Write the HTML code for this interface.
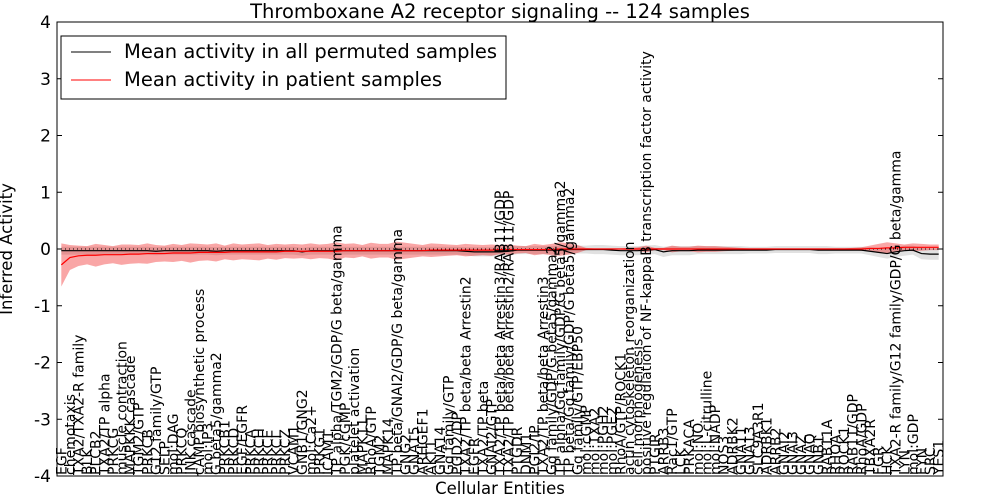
<!DOCTYPE html>
<html><head><meta charset="utf-8"><style>
body{margin:0;background:#fff;font-family:"DejaVu Sans",sans-serif}
svg text{font-family:"DejaVu Sans",sans-serif}
</style></head><body>
<svg id="c" width="1000" height="500" xmlns="http://www.w3.org/2000/svg">
<text x="500" y="18" text-anchor="middle" font-size="19.5">Thromboxane A2 receptor signaling -- 124 samples</text>
<text x="500" y="494" text-anchor="middle" font-size="16.5">Cellular Entities</text>
<text transform="translate(12,249) rotate(-90)" text-anchor="middle" font-size="16.5">Inferred Activity</text>
<g id="bands"></g><g id="lines"></g><g id="yt"></g><g id="xl"></g>
<rect x="57" y="22" width="886" height="454" fill="none" stroke="#000"/>
<g>
<rect x="61" y="36" width="445" height="63" fill="#fff" stroke="#000"/>
<line x1="71" y1="52" x2="111" y2="52" stroke="#000"/>
<text x="124" y="58" font-size="19.5">Mean activity in all permuted samples</text>
<line x1="71" y1="80" x2="111" y2="80" stroke="red"/>
<text x="124" y="86" font-size="19.5">Mean activity in patient samples</text>
</g>
</svg>
<script>
const labels=["EGF","chemotaxis","TXA2/TXA2-R family","BLK","PLCB2","TXA2/TP alpha","PRKCG","muscle contraction","MAPKKK cascade","TGM2/GTP","PRKCB","G12 family/GTP","SELP","mol:DAG","PRKCQ","JNK cascade","cAMP biosynthetic process","mol:IP3","G beta5/gamma2","PRKCB1","PRKCD","EGF/EGFR","PRKCA","PRKCH","PRKCE","PRKCI","PRKCZ","VCAM1","GNB1/GNG2","mol:Ca2+","PRKG1","ICAM1","TP alpha/TGM2/GDP/G beta/gamma","PGK/cGMP","platelet activation","MAPK11","RhoA/GTP","TGM2","MAPK14","TP beta/GNAI2/GDP/G beta/gamma","GNG2","GNA15","ARHGEF1","AKT1","GNA14","Gq family/GTP","PGD2/DP","TXA2/TP beta/beta Arrestin2","EGFR","TXA2/TP beta","GNAI2/GTP","TXA2/TP beta/beta Arrestin3/RAB11/GDP","TXA2/TP beta/beta Arrestin2/RAB11/GDP","PTGDR","DNM1","PGI2/IP","TXA2/TP beta/beta Arrestin3","Gq family/GDP/G beta5/gamma2","TP alpha/Gq family/GDP/G beta5/gamma2","TP beta/Gq family/GDP/G beta5/gamma2","Gq family/GTP/EBP50","mol:cGMP","mol:TXA2","mol:PGH2","mol:PGE2","RhoA/GTP/ROCK1","actin cytoskeleton reorganization","cell morphogenesis","positive regulation of NF-kappaB transcription factor activity","PTGIR","ARRB3","Rac1/GTP","LCK","PRKACA","mol:NO","mol:L-citrulline","mol:NADP","NOS3","ADRBK2","GNA11","GNA13","SLC9A3R1","ADRBK1","ARRB2","GNAI2","GNAI3","GNAZ","GNAQ","GNB1","RAB11A","RHOA","ROCK1","RAB11/GDP","RhoA/GDP","TBXA2R","FGR","HCK","TXA2-R family/G12 family/GDP/G beta/gamma","LYN","mol:GDP","FYN","SRC","YES1"];
const patientMean=[-0.28,-0.15,-0.12,-0.11,-0.11,-0.1,-0.1,-0.1,-0.09,-0.09,-0.08,-0.08,-0.08,-0.07,-0.07,-0.07,-0.06,-0.06,-0.06,-0.06,-0.05,-0.05,-0.05,-0.05,-0.05,-0.05,-0.04,-0.04,-0.04,-0.04,-0.04,-0.04,-0.04,-0.03,-0.03,-0.03,-0.03,-0.03,-0.03,-0.03,-0.03,-0.03,-0.03,-0.02,-0.02,-0.02,-0.02,-0.02,-0.02,-0.02,-0.02,-0.01,-0.01,-0.01,-0.01,-0.01,-0.01,-0.01,0,0,0,0,0,0,0,0,0,0,0,0,0,0,0,0,0,0,0,0,0,0,0,0,0,0,0,0,0,0,0,0,0,0,0,0,0.01,0.01,0.02,0.02,0.03,0.03,0.03,0.03,0.03];
const permutedMean=[-0.03,-0.03,-0.03,-0.03,-0.03,-0.03,-0.03,-0.03,-0.03,-0.03,-0.03,-0.04,-0.03,-0.03,-0.03,-0.03,-0.03,-0.03,-0.04,-0.03,-0.03,-0.03,-0.03,-0.03,-0.03,-0.03,-0.03,-0.03,-0.05,-0.03,-0.03,-0.03,-0.03,-0.03,-0.03,-0.03,-0.03,-0.03,-0.03,-0.03,-0.03,-0.03,-0.03,-0.03,-0.03,-0.03,-0.03,-0.04,-0.05,-0.05,-0.05,-0.05,-0.04,-0.02,-0.02,-0.02,-0.02,-0.02,-0.02,-0.01,-0.01,-0.01,-0.01,-0.01,-0.02,-0.03,-0.03,-0.03,-0.02,-0.01,-0.05,-0.03,-0.03,-0.03,-0.02,-0.02,-0.02,-0.02,-0.02,-0.02,-0.02,-0.02,-0.02,-0.01,-0.01,-0.01,-0.01,-0.01,-0.02,-0.02,-0.02,-0.02,-0.02,-0.02,-0.04,-0.06,-0.08,-0.05,-0.03,-0.02,-0.08,-0.09,-0.09];
const patientSpread=[0.38,0.22,0.18,0.16,0.2,0.17,0.15,0.18,0.17,0.16,0.18,0.15,0.14,0.16,0.14,0.17,0.15,0.14,0.16,0.12,0.15,0.13,0.14,0.15,0.12,0.14,0.12,0.13,0.12,0.14,0.12,0.13,0.16,0.12,0.13,0.1,0.14,0.12,0.12,0.16,0.14,0.12,0.1,0.12,0.11,0.1,0.09,0.11,0.1,0.09,0.1,0.08,0.09,0.07,0.06,0.1,0.08,0.1,0.12,0.1,0.07,0.02,0.01,0.01,0.01,0.01,0.02,0.03,0.06,0.02,0.02,0.06,0.04,0.04,0.06,0.05,0.05,0.04,0.03,0.02,0.01,0.01,0.01,0.01,0.01,0.01,0.01,0.01,0.01,0.01,0.01,0.01,0.02,0.03,0.05,0.08,0.1,0.08,0.05,0.07,0.06,0.05,0.05];
const permutedSpread=[0.07,0.07,0.07,0.07,0.07,0.07,0.07,0.07,0.07,0.07,0.07,0.07,0.07,0.07,0.07,0.07,0.07,0.07,0.07,0.07,0.07,0.07,0.07,0.07,0.07,0.07,0.07,0.07,0.07,0.07,0.07,0.07,0.07,0.07,0.07,0.07,0.07,0.07,0.07,0.07,0.07,0.07,0.07,0.07,0.07,0.07,0.07,0.07,0.08,0.08,0.08,0.08,0.08,0.07,0.07,0.07,0.07,0.07,0.07,0.07,0.07,0.07,0.08,0.08,0.08,0.08,0.08,0.08,0.08,0.08,0.09,0.08,0.08,0.08,0.07,0.07,0.07,0.07,0.07,0.07,0.06,0.06,0.06,0.06,0.06,0.06,0.06,0.06,0.07,0.07,0.06,0.06,0.06,0.06,0.07,0.08,0.09,0.09,0.09,0.08,0.1,0.1,0.1];
const yTicks=[-4,-3,-2,-1,0,1,2,3,4];
const NS="http://www.w3.org/2000/svg";
const X0=57,X1=943,Y0=476,Y1=22;
const n=labels.length;
function xs(i){return X0+(i+0.5)*(X1-X0)/n;}
function ys(v){return Y0-(v+4)/8*(Y0-Y1);}
function mk(t,a,p){const e=document.createElementNS(NS,t);for(const k in a)e.setAttribute(k,a[k]);p.appendChild(e);return e;}
const bands=document.getElementById('bands'),lines=document.getElementById('lines'),yt=document.getElementById('yt'),xl=document.getElementById('xl');
function band(m,s,fill,op,name){let up=[],dn=[];for(let i=0;i<n;i++){up.push(xs(i)+','+ys(m[i]+s[i]));dn.unshift(xs(i)+','+ys(m[i]-s[i]));}
const p=mk('polygon',{points:up.concat(dn).join(' '),fill:fill,'fill-opacity':op},bands);

}
band(permutedMean,permutedSpread,'#aaa',0.35,'permuted-band');
band(patientMean,patientSpread,'#e00',0.35,'patient-band');
const z=mk('line',{x1:X0,x2:X1,y1:ys(0),y2:ys(0),stroke:'#000','stroke-dasharray':'1,3'},lines);


function line(m,c,name){const p=mk('polyline',{points:m.map((v,i)=>xs(i)+','+ys(v)).join(' '),fill:'none',stroke:c,'stroke-width':1.2},lines);

}
line(permutedMean,'#000','permuted-mean-line');
line(patientMean,'#f00','patient-mean-line');
yTicks.forEach(v=>{const y=ys(v);
mk('line',{x1:X0,x2:X0+5,y1:y,y2:y,stroke:'#000'},yt);mk('line',{x1:X1,x2:X1-5,y1:y,y2:y,stroke:'#000'},yt);
const t=mk('text',{x:X0-6,y:y+6,'text-anchor':'end','font-size':17},yt);t.textContent=v;

});
labels.forEach((l,i)=>{const x=xs(i);
const t=mk('text',{transform:'translate('+(x+5)+','+(Y0-1)+') rotate(-90)','font-size':14},xl);t.textContent=l;

});
</script>
</body></html>
